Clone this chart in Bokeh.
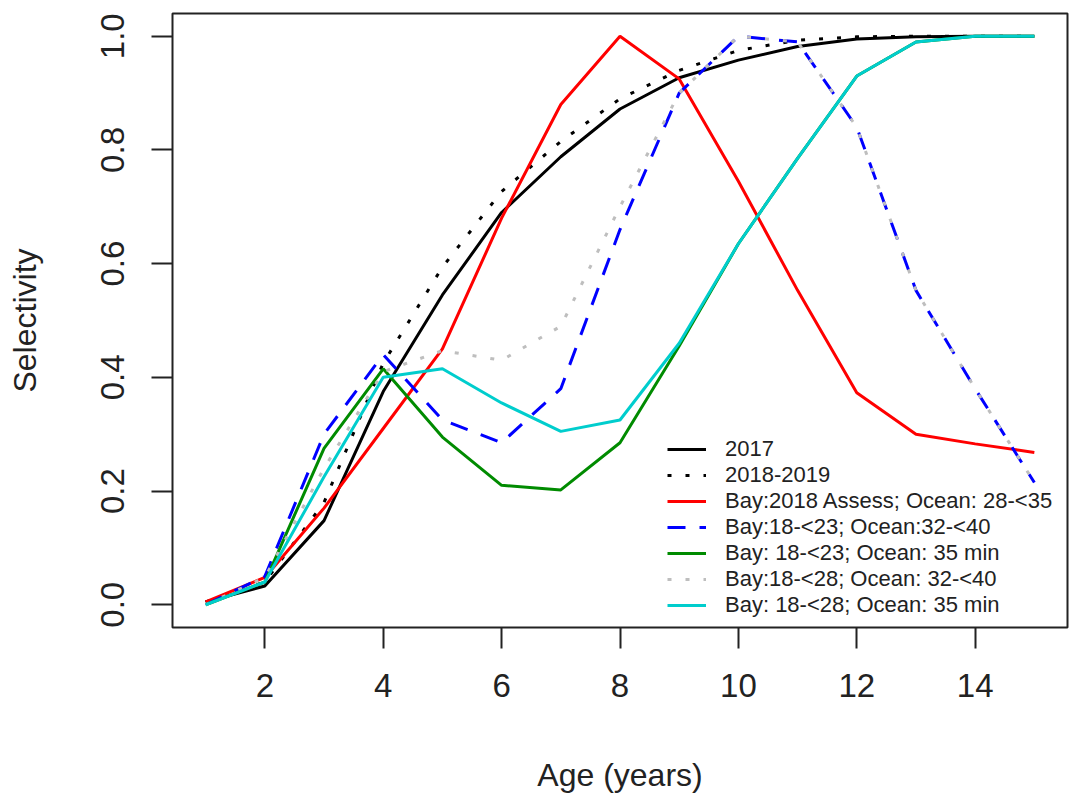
from bokeh.plotting import figure
from bokeh.models import Range1d, FixedTicker, Legend, LegendItem, PrintfTickFormatter
from bokeh.embed import file_html
from bokeh.resources import INLINE

ages = list(range(1, 16))
sel_2017 = [0.005, 0.033, 0.148, 0.375, 0.545, 0.69, 0.788, 0.872, 0.927, 0.958, 0.982, 0.995, 0.999, 1.0, 1.0]
sel_2018_2019 = [0.005, 0.04, 0.18, 0.425, 0.594, 0.727, 0.815, 0.89, 0.94, 0.975, 0.993, 0.999, 1.0, 1.0, 1.0]
sel_bay2018 = [0.005, 0.048, 0.17, 0.31, 0.45, 0.68, 0.88, 1.0, 0.925, 0.745, 0.553, 0.373, 0.30, 0.283, 0.268]
sel_b23_o32 = [0.0, 0.05, 0.30, 0.44, 0.325, 0.285, 0.38, 0.66, 0.90, 1.0, 0.99, 0.84, 0.553, 0.38, 0.215]
sel_b23_o35 = [0.0, 0.04, 0.275, 0.415, 0.295, 0.21, 0.202, 0.285, 0.455, 0.635, 0.785, 0.93, 0.99, 1.0, 1.0]
sel_b28_o32 = [0.0, 0.048, 0.24, 0.41, 0.447, 0.43, 0.49, 0.70, 0.90, 1.0, 0.99, 0.84, 0.553, 0.38, 0.215]
sel_b28_o35 = [0.0, 0.04, 0.225, 0.40, 0.415, 0.355, 0.305, 0.325, 0.46, 0.635, 0.785, 0.93, 0.99, 1.0, 1.0]

series_labels = ["2017", "2018-2019", "Bay:2018 Assess; Ocean: 28-<35", "Bay:18-<23; Ocean:32-<40",
                 "Bay: 18-<23; Ocean: 35 min", "Bay:18-<28; Ocean: 32-<40", "Bay: 18-<28; Ocean: 35 min"]
x_ticks = [2, 4, 6, 8, 10, 12, 14]
y_ticks = [0.0, 0.2, 0.4, 0.6, 0.8, 1.0]

FONT = "Liberation Sans"

p = figure(width=1074, height=802, output_backend="svg", toolbar_location=None,
           x_range=Range1d(0.44, 15.56), y_range=Range1d(-0.04, 1.04),
           min_border_left=172, min_border_right=7, min_border_top=13, min_border_bottom=175,
           x_axis_label="Age (years)", y_axis_label="Selectivity")
p.grid.visible = False
p.background_fill_color = "white"
p.border_fill_color = "white"
p.outline_line_color = "#222222"
p.outline_line_width = 2

for ax in (p.xaxis[0], p.yaxis[0]):
    ax.axis_line_color = None
    ax.major_tick_in = 0
    ax.major_tick_out = 21
    ax.major_tick_line_width = 2
    ax.major_tick_line_color = "#222222"
    ax.minor_tick_line_color = None
    ax.major_label_text_font = FONT
    ax.major_label_text_font_size = "33px"
    ax.major_label_text_color = "#222222"
    ax.axis_label_text_font = FONT
    ax.axis_label_text_font_size = "32px"
    ax.axis_label_text_font_style = "normal"
    ax.axis_label_text_color = "#222222"

p.xaxis.ticker = FixedTicker(ticks=x_ticks)
p.yaxis.ticker = FixedTicker(ticks=y_ticks)
p.yaxis.formatter = PrintfTickFormatter(format="%.1f")
p.yaxis.major_label_orientation = "vertical"
p.xaxis.major_label_standoff = 25
p.yaxis.major_label_standoff = 27
p.xaxis.axis_label_standoff = 57
p.yaxis.axis_label_standoff = 56

styles = [
    (sel_2017, "black", None),
    (sel_2018_2019, "black", "4 14"),
    (sel_bay2018, "#FF0000", None),
    (sel_b23_o32, "#0000FF", "18 14"),
    (sel_b23_o35, "#008B00", None),
    (sel_b28_o32, "#BEBEBE", "4 14"),
    (sel_b28_o35, "#00CDCD", None),
]

items = []
for (vals, color, dash), lab in zip(styles, series_labels):
    kw = dict(line_color=color, line_width=3)
    if dash:
        kw["line_dash"] = dash
    r = p.line(ages, vals, **kw)
    items.append(LegendItem(label=lab, renderers=[r]))

legend = Legend(items=items, location=(495, 9))
legend.border_line_color = None
legend.background_fill_alpha = 0
legend.padding = 0
legend.margin = 0
legend.spacing = 0
legend.glyph_width = 39
legend.glyph_height = 20
legend.label_height = 20
legend.label_standoff = 19
legend.label_text_font = FONT
legend.label_text_font_size = "22px"
legend.label_text_color = "#222222"
p.add_layout(legend)

open("out.html", "w").write(file_html(p, INLINE))
